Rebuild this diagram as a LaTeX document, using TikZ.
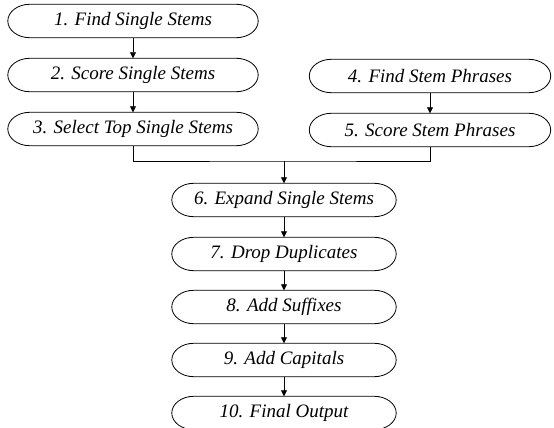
\documentclass[tikz,border=0pt]{standalone}
\usepackage{fontspec}
\setmainfont{Liberation Serif}
\usetikzlibrary{arrows.meta,calc}
\begin{document}
\begin{tikzpicture}[x=1pt,y=-1pt,
  stage/.style={minimum height=33pt, inner sep=1pt, font=\fontsize{19}{21}\selectfont\itshape},
  leftw/.style={stage, minimum width=250pt},
  rightw/.style={stage, minimum width=241pt},
  midw/.style={stage, minimum width=224pt},
  outline/.style={line width=0.8pt},
  link/.style={line width=0.8pt},
  arr/.style={link, -{Triangle[length=6pt,width=6pt]}}]
\useasboundingbox (0,0) rectangle (554,428);
\node[leftw] (n1) at (133,21) {1. Find Single Stems};
\node[leftw] (n2) at (133,75) {2. Score Single Stems};
\node[leftw] (n3) at (133,129) {3. Select Top Single Stems};
\node[rightw] (n4) at (430,76) {4. Find Stem Phrases};
\node[rightw] (n5) at (430,130) {5. Score Stem Phrases};
\node[midw] (n6) at (284,200) {6. Expand Single Stems};
\node[midw] (n7) at (284,254) {7. Drop Duplicates};
\node[midw] (n8) at (284,307) {8. Add Suffixes};
\node[midw] (n9) at (284,360) {9. Add Capitals};
\node[midw] (n10) at (284,413) {10. Final Output};
\foreach \nd in {n1,n2,n3,n4,n5,n6,n7,n8,n9,n10}{
  \path let \p1=(\nd.north west), \p2=(\nd.south east), \n1={(\y1-\y2)/2} in
    [draw, outline] (\x1+22pt,\y1) -- (\x2-22pt,\y1)
    arc[start angle=90,end angle=-90,x radius=22pt,y radius=\n1]
    -- (\x1+22pt,\y2)
    arc[start angle=270,end angle=90,x radius=22pt,y radius=\n1] -- cycle;
}
\draw[arr] (n1.south) -- (n2.north);
\draw[arr] (n2.south) -- (n3.north);
\draw[arr] (n4.south) -- (n5.north);
\coordinate (j) at (284,161);
\draw[link] (n3.south) |- (j) -| (n5.south);
\draw[arr] (j) -- (n6.north);
\draw[arr] (n6.south) -- (n7.north);
\draw[arr] (n7.south) -- (n8.north);
\draw[arr] (n8.south) -- (n9.north);
\draw[arr] (n9.south) -- (n10.north);
\end{tikzpicture}
\end{document}
